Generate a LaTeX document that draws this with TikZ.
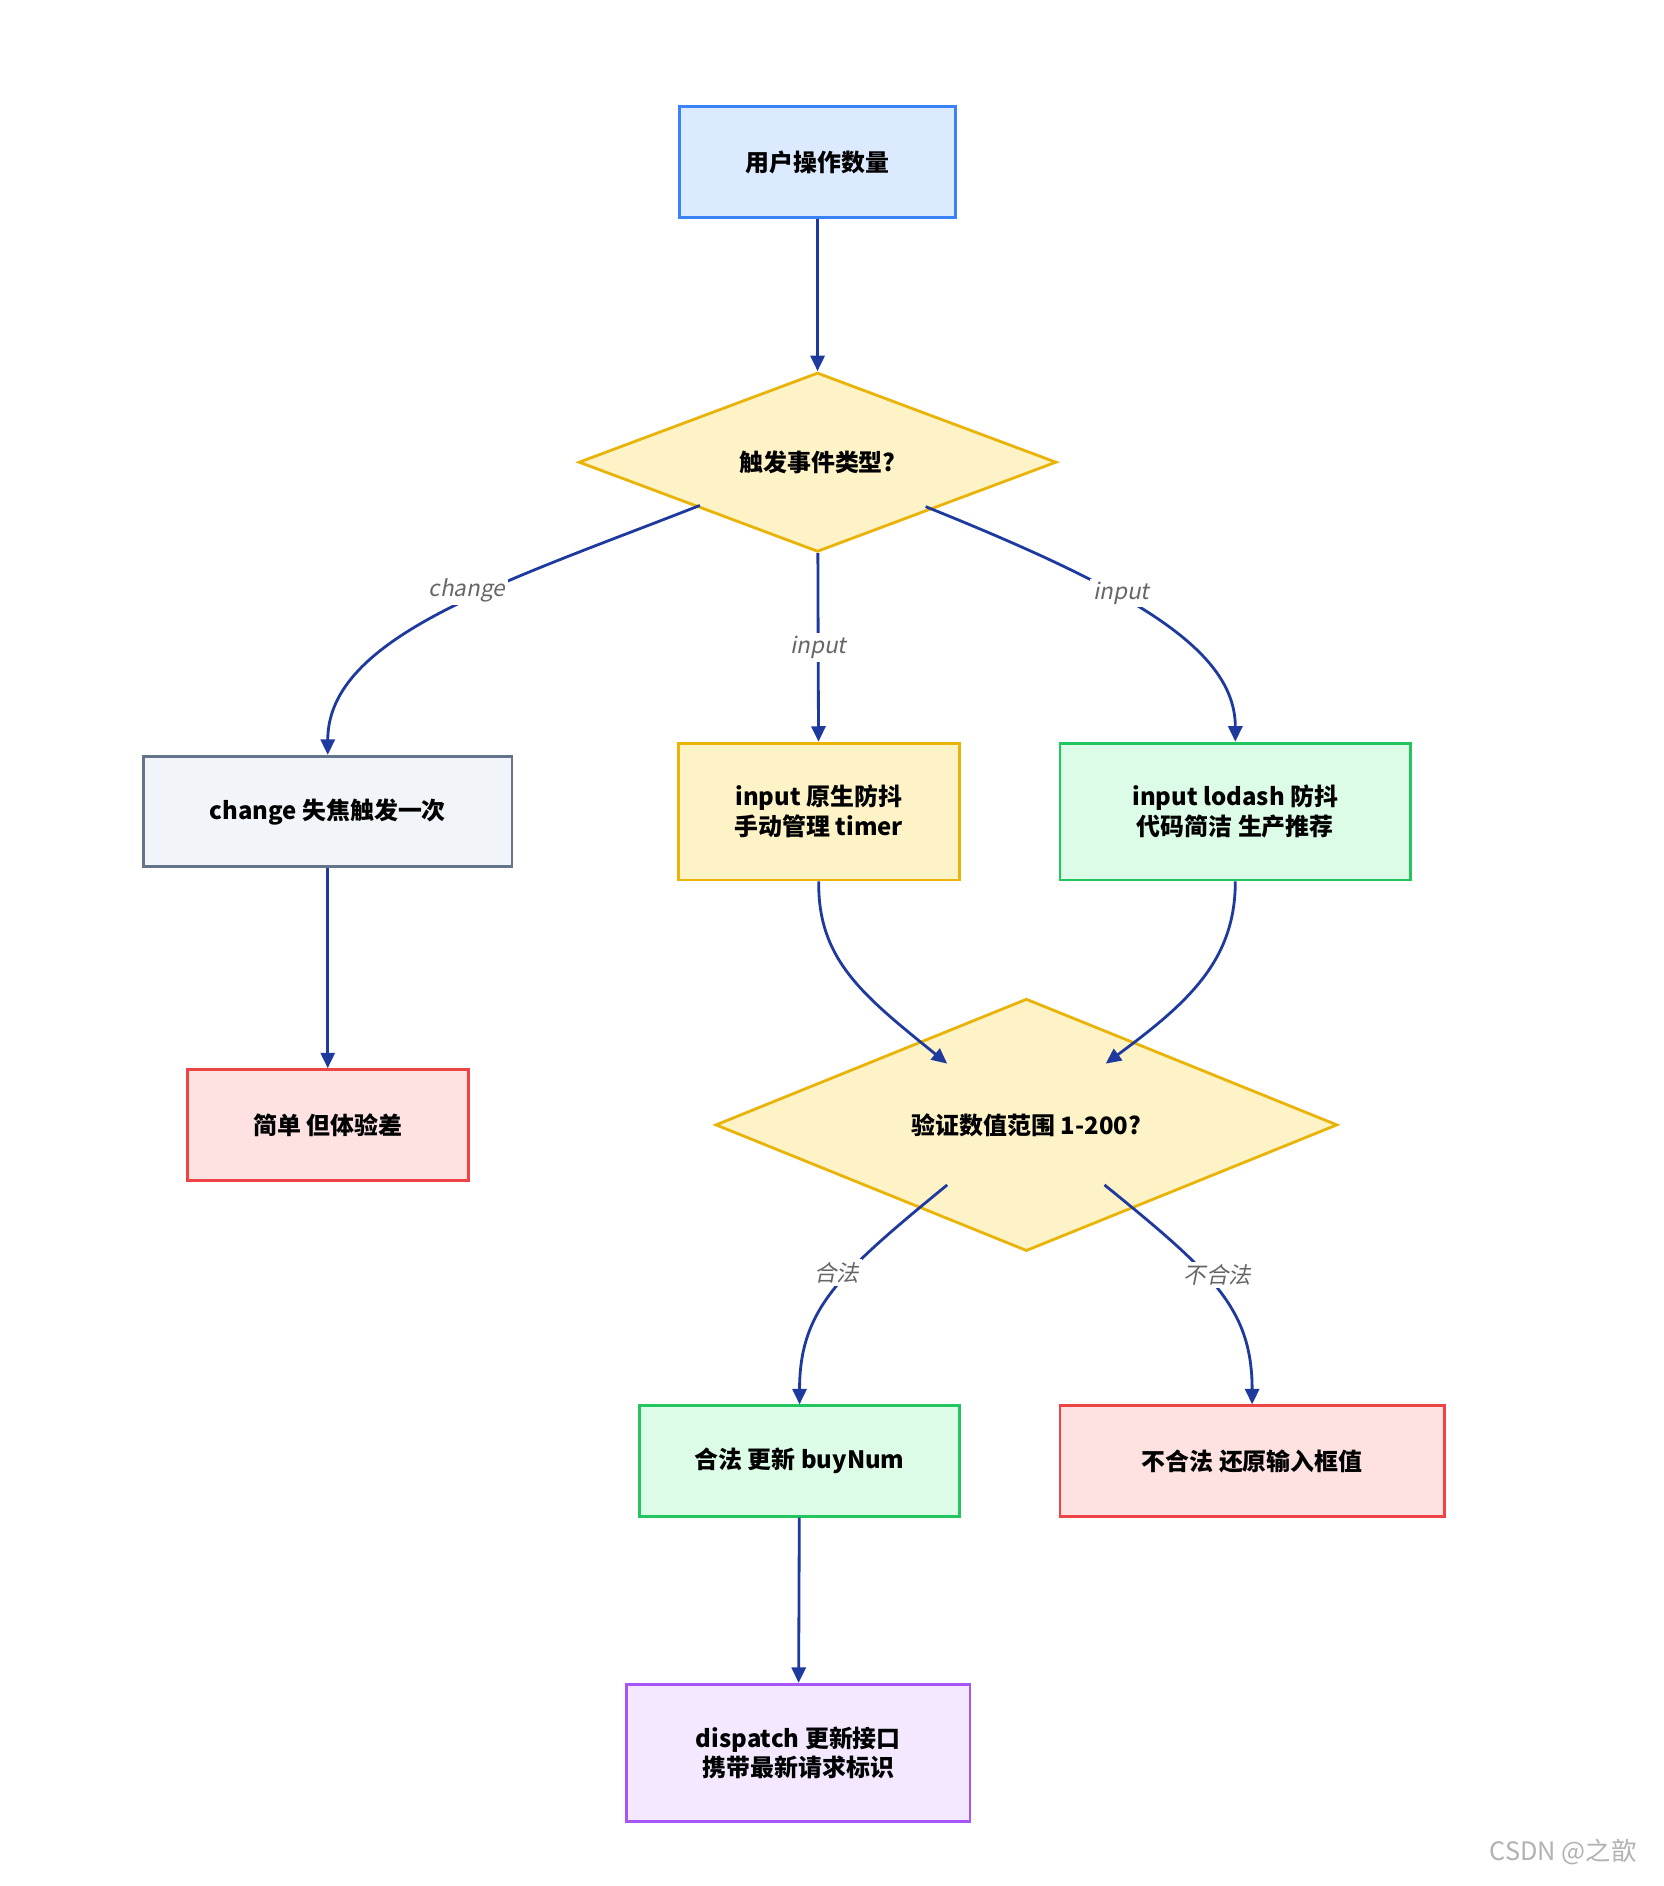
\documentclass[tikz,border=0pt]{standalone}
\usepackage{fontspec}
\setmainfont{Noto Sans CJK SC}
\newfontfamily\lblfont{Noto Sans CJK SC}[FakeSlant=0.2]
\usetikzlibrary{shapes.geometric,arrows.meta,calc}
\definecolor{edge}{HTML}{1E3A9F}
\definecolor{yfill}{HTML}{FEF3C7}\definecolor{yline}{HTML}{EAB308}
\definecolor{bfill}{HTML}{DBEAFE}\definecolor{bline}{HTML}{3B82F6}
\definecolor{sfill}{HTML}{F1F5F9}\definecolor{sline}{HTML}{64748B}
\definecolor{gfill}{HTML}{DCFCE7}\definecolor{gline}{HTML}{22C55E}
\definecolor{rfill}{HTML}{FEE2E2}\definecolor{rline}{HTML}{EF4444}
\definecolor{pfill}{HTML}{F3E8FF}\definecolor{pline}{HTML}{A855F7}
\begin{document}
\begin{tikzpicture}[x=0.03cm,y=-0.03cm,
  box/.style={draw, line width=2pt, minimum width=#1*0.03cm, font=\fontsize{17}{21}\selectfont\bfseries, align=center, inner sep=0},
  dia/.style={diamond, draw, line width=2pt, fill=yfill, draw=yline, inner sep=0, font=\fontsize{17}{21}\selectfont\bfseries},
  e/.style={draw=edge, line width=2pt, -{Triangle[length=11pt,width=10pt]}},
  lbl/.style={fill=white, text=gray!80!black, font=\fontsize{16}{20}\selectfont\lblfont, inner sep=2pt}]
\useasboundingbox[fill=white] (0,0) rectangle (1386,1571);
\node[box=230, minimum height=92*0.03cm, fill=bfill, draw=bline] (a) at (681,135) {用户操作数量};
\node[dia, minimum width=398*0.03cm, minimum height=130*0.03cm] (d1) at (681,385) {触发事件类型?};
\node[box=307, minimum height=92*0.03cm, fill=sfill, draw=sline] (b1) at (273,676) {change 失焦触发一次};
\node[box=234, minimum height=114*0.03cm, fill=yfill, draw=yline] (b2) at (682,676) {input 原生防抖\\手动管理 timer};
\node[box=292, minimum height=114*0.03cm, fill=gfill, draw=gline] (b3) at (1029,676) {input lodash 防抖\\代码简洁 生产推荐};
\node[box=234, minimum height=92*0.03cm, fill=rfill, draw=rline] (c1) at (273,937) {简单 但体验差};
\node[dia, minimum width=518*0.03cm, minimum height=130*0.03cm] (d2) at (855,937) {验证数值范围 1-200?};
\node[box=266, minimum height=92*0.03cm, fill=gfill, draw=gline] (e1) at (666,1217) {合法 更新 buyNum};
\node[box=320, minimum height=92*0.03cm, fill=rfill, draw=rline] (e2) at (1043,1217) {不合法 还原输入框值};
\node[box=286, minimum height=114*0.03cm, fill=pfill, draw=pline] (f) at (665,1460) {dispatch 更新接口\\携带最新请求标识};
\node[text=gray!60, font=\fontsize{18}{22}\selectfont] (wm) at (1302,1543) {CSDN @之歆};
\coordinate (d1l) at (583,421); \coordinate (d1r) at (771,422);
\coordinate (d2tl) at (789,886); \coordinate (d2tr) at (921,886);
\coordinate (d2bl) at (789,987); \coordinate (d2br) at (920,987);
\draw[e] (a) -- (d1);
\draw[e] (d1l) .. controls (420,485) and (273,530) .. (b1.north);
\draw[e] (d1) -- node[lbl]{input} (b2);
\draw[e] (d1r) .. controls (940,490) and (1029,540) .. (b3.north);
\draw[e] (b1) -- (c1);
\draw[e] (b2.south) .. controls (681,800) and (720,830) .. (d2tl);
\draw[e] (b3.south) .. controls (1029,800) and (990,835) .. (d2tr);
\draw[e] (d2bl) .. controls (700,1060) and (666,1090) .. (e1.north);
\draw[e] (d2br) .. controls (1010,1060) and (1043,1090) .. (e2.north);
\draw[e] (e1) -- (f);
\node[lbl] (l1) at (389,492) {change};
\node[lbl] (l2) at (934,494) {input};
\node[lbl] (l3) at (697,1060) {合法};
\node[lbl] (l4) at (1014,1062) {不合法};
\end{tikzpicture}
\end{document}
